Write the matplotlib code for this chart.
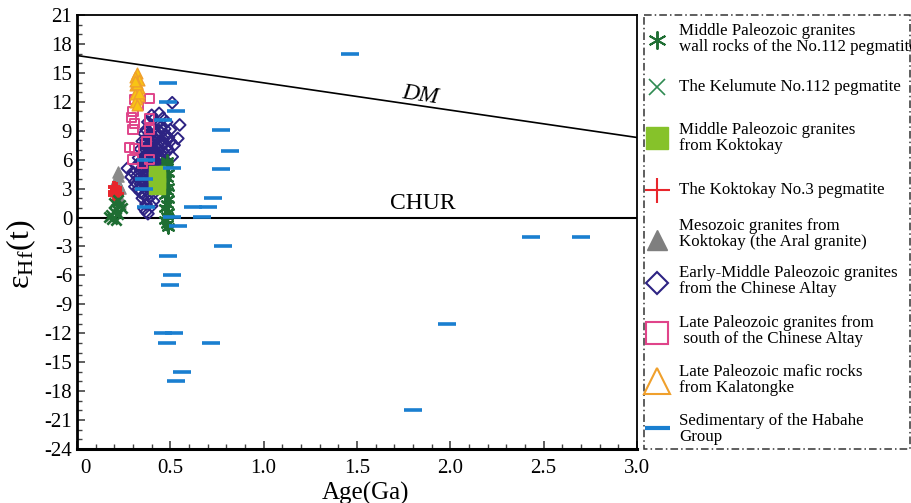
import matplotlib
matplotlib.use("Agg")
import matplotlib.pyplot as plt
from matplotlib.lines import Line2D
from matplotlib.patches import Rectangle
from matplotlib.ticker import MultipleLocator, FuncFormatter
import matplotlib.transforms as mtransforms

plt.rcParams['font.family'] = ['Liberation Serif', 'DejaVu Serif']
plt.rcParams['mathtext.fontset'] = 'stix'

# ---------------- data ----------------
diam_x = [0.51,0.44,0.40,0.41,0.46,0.38,0.43,0.48,0.55,0.40,0.45,
          0.37,0.41,0.44,0.47,0.50,0.36,0.39,0.42,0.45,0.48,
          0.38,0.40,0.43,0.46,0.49,0.54,0.35,0.37,0.39,0.41,0.44,0.47,0.50,
          0.36,0.38,0.40,0.42,0.45,0.48,0.52,0.34,0.37,0.39,0.41,0.43,0.46,0.49,
          0.35,0.37,0.39,0.41,0.44,0.47,0.51,0.33,0.36,0.38,0.40,0.42,0.45,0.48,
          0.34,0.36,0.38,0.40,0.43,0.46,0.32,0.35,0.37,0.39,0.41,0.44,0.27,
          0.30,0.34,0.36,0.38,0.40,0.42,0.29,0.32,0.35,0.37,0.39,0.41,
          0.31,0.34,0.36,0.38,0.40,0.31,0.33,0.35,0.37,0.39,0.34,0.36,0.38,0.41,
          0.35,0.38,0.41,0.37,0.40,0.36,0.38,0.37,
          0.39,0.42,0.37,0.40,0.43,0.38,0.41,0.36,0.39,0.42,0.40,0.38]
diam_y = [11.9,10.8,10.6,10.2,10.3,9.9,9.8,9.9,9.6,9.5,9.4,
          9.1,9.2,9.0,9.2,9.1,8.7,8.8,8.6,8.8,8.5,
          8.3,8.1,8.4,8.2,8.3,8.2,7.9,8.0,7.7,7.9,7.8,7.7,7.9,
          7.5,7.3,7.6,7.4,7.5,7.3,7.5,7.1,7.0,7.2,6.9,7.1,6.9,7.0,
          6.7,6.5,6.8,6.6,6.4,6.6,6.3,6.2,6.3,6.0,6.2,5.9,6.1,5.8,
          5.8,5.6,5.5,5.7,5.4,5.6,5.4,5.2,5.0,5.3,5.1,4.9,5.1,
          4.7,4.8,4.5,4.7,4.4,4.6,4.2,4.3,4.0,4.2,3.9,4.1,
          3.7,3.5,3.7,3.4,3.6,3.2,3.0,3.2,2.9,3.1,2.6,2.4,2.7,2.5,
          2.0,1.9,1.7,1.4,1.2,0.9,0.4,0.6,
          8.5,8.0,7.8,7.0,6.7,6.6,6.0,5.9,5.1,5.2,4.8,3.8]

pink_x = [0.31,0.39,0.30,0.31,0.30,0.39,0.39,0.28,0.31,0.30,0.39,0.33,0.29,0.37,0.35]
pink_y = [12.2,12.3,11.0,9.8,9.1,10.3,9.1,7.3,7.2,6.0,6.0,11.6,10.4,7.9,5.6]

yel_x = [0.32,0.31,0.33,0.32,0.31,0.33,0.32,0.31,0.33,0.32,0.31,0.32,0.33,0.32,0.31]
yel_y = [15.0,14.6,14.3,14.0,13.7,13.4,13.1,12.8,12.6,12.3,12.0,11.7,12.9,13.8,14.2]

gray_x = [0.22,0.22,0.21,0.22,0.23,0.21,0.22,0.22,0.23]
gray_y = [4.7,4.3,3.9,3.5,3.1,2.7,2.3,1.9,1.6]

red_x = [0.20,0.21,0.20,0.22,0.21,0.20,0.21]
red_y = [3.2,2.9,2.6,2.4,3.1,2.3,2.7]

gx_x = [0.22,0.23,0.21,0.20,0.18,0.17,0.22,0.19,0.21,0.24,0.20]
gx_y = [1.8,1.3,0.9,0.6,0.3,0.1,0.4,-0.2,-0.3,1.0,1.5]

ast_x = [0.48,0.47,0.49,0.48,0.47,0.49,0.48,0.47,0.49,0.48,0.47,0.49,0.48,0.47,0.48,0.49,0.48]
ast_y = [5.5,5.0,4.6,4.1,3.7,3.2,2.8,2.3,1.9,1.4,1.0,0.6,0.2,-0.3,-0.7,-1.0,5.9]

lg_x = [0.43,0.43,0.43]
lg_y = [4.5,3.9,3.3]

sed_x = [1.46,0.49,0.49,0.53,0.77,0.82,0.77,0.73,0.62,0.70,0.67,0.54,0.51,0.46,0.37,0.36,
         0.37,0.51,0.78,0.49,0.51,0.50,0.46,0.52,0.48,0.72,0.56,0.53,1.80,1.98,2.43,2.70,0.36]
sed_y = [17.0,14.0,12.0,11.0,9.1,6.9,5.0,2.0,1.1,1.1,0.1,-0.9,5.1,10.1,6.0,4.0,
         1.1,0.1,-3.0,-4.0,-6.0,-7.0,-12.0,-12.0,-13.0,-13.0,-16.0,-17.0,-20.0,-11.0,-2.0,-2.0,3.0]

dm_x = [0.0, 3.0]
dm_y = [16.8, 8.3]

legend_labels = [
    "Middle Paleozoic granites\nwall rocks of the No.112 pegmatite",
    "The Kelumute No.112 pegmatite",
    "Middle Paleozoic granites\nfrom Koktokay",
    "The Koktokay No.3 pegmatite",
    "Mesozoic granites from\nKoktokay (the Aral granite)",
    "Early-Middle Paleozoic granites\nfrom the Chinese Altay",
    "Late Paleozoic granites from\n south of the Chinese Altay",
    "Late Paleozoic mafic rocks\nfrom Kalatongke",
    "Sedimentary of the Habahe\nGroup",
]

# ---------------- colours ----------------
C_DIAM = '#2d2383'
C_PINK = '#e0448a'
C_YEL = '#f8c414'
C_ORG = '#f0a02c'
C_GRAY = '#8a8a8a'
C_RED = '#e8262c'
C_AST = '#1f6e33'
C_GX = '#2f8a52'
C_LG = '#86c22a'
C_BLUE = '#1a7fd0'

W, H = 912, 503
fig = plt.figure(figsize=(W/100, H/100), dpi=100)
ax = fig.add_axes([77/W, 1-449/H, (637-77)/W, (449-15)/H])

ax.plot(dm_x, dm_y, color='black', lw=1.2, zorder=2)
ax.axhline(0, color='black', lw=1.5, zorder=2)

ax.scatter(diam_x, diam_y, marker='D', s=36, facecolors='none', edgecolors=C_DIAM, linewidths=1.4, zorder=3)
ax.scatter(pink_x, pink_y, marker='s', s=42, facecolors='none', edgecolors=C_PINK, linewidths=1.4, zorder=4)
ax.scatter(yel_x, yel_y, marker='^', s=60, facecolors=C_YEL, edgecolors=C_ORG, linewidths=1.0, zorder=5)
ax.scatter(gray_x, gray_y, marker='^', s=65, color=C_GRAY, zorder=5)
ax.scatter(red_x, red_y, marker='+', s=75, color=C_RED, linewidths=2.8, zorder=6)
ax.scatter(gx_x, gx_y, marker='x', s=55, color=C_AST, linewidths=1.9, zorder=6)
ax.scatter(ast_x, ast_y, marker=(6, 2, 0), s=75, color=C_AST, linewidths=1.7, zorder=6)
ax.scatter(lg_x, lg_y, marker='s', s=140, color=C_LG, zorder=7)
ax.scatter(sed_x, sed_y, marker='_', s=160, color=C_BLUE, linewidths=2.6, zorder=8)

ax.set_xlim(0, 3.0)
ax.set_ylim(-24, 21)
ax.xaxis.set_major_locator(MultipleLocator(0.5))
ax.xaxis.set_minor_locator(MultipleLocator(0.1))
ax.yaxis.set_major_locator(MultipleLocator(3))
ax.yaxis.set_minor_locator(MultipleLocator(1))
ax.xaxis.set_major_formatter(FuncFormatter(lambda v, p: '0' if abs(v) < 1e-9 else f'{v:.1f}'))
ax.yaxis.set_major_formatter(FuncFormatter(lambda v, p: f'{int(round(v))}'))
ax.tick_params(which='both', direction='in', labelsize=15, color='#444444')
ax.tick_params(which='major', length=6, width=1.2)
ax.tick_params(which='minor', length=3.5, width=1.0)
ax.tick_params(axis='x', pad=7)
for sp in ax.spines.values():
    sp.set_linewidth(1.3)
ax.spines['bottom'].set_linewidth(2.2)
ax.spines['left'].set_linewidth(2.0)

ax.set_xlabel('Age(Ga)', fontsize=18, labelpad=3)
ax.xaxis.set_label_coords(0.515, -0.075)
ax.set_ylabel(r'$\mathregular{\varepsilon}_{\mathregular{Hf}}\mathregular{(t)}$', fontsize=23, labelpad=6)
ax.yaxis.set_label_coords(-0.07, 0.45)

ax.text(1.84, 12.7, 'DM', fontsize=17, style='italic', rotation=-8.3, ha='center', va='center')
ax.text(1.85, 1.5, 'CHUR', fontsize=17, ha='center', va='center')

# shift the "0" tick label slightly to the right as in the reference
fig.canvas.draw()
for tk in ax.xaxis.get_major_ticks():
    if tk.label1.get_text() == '0':
        tk.label1.set_transform(tk.label1.get_transform() +
                                mtransforms.ScaledTranslation(8/100, 0, fig.dpi_scale_trans))

# ---------------- legend ----------------
lax = fig.add_axes([0, 0, 1, 1])
lax.set_xlim(0, W)
lax.set_ylim(H, 0)
lax.axis('off')
lax.add_patch(Rectangle((644, 15), 266, 434, fill=False, ls=(0, (5, 2, 1, 2)), lw=1.1, ec='#333333'))

handles = [
    dict(marker=(6, 2, 0), ms=13, color=C_AST, mew=1.4, mfc='none'),
    dict(marker='x', ms=12, color=C_GX, mew=1.2),
    dict(marker='s', ms=16, color=C_LG),
    dict(marker='+', ms=18, color=C_RED, mew=1.5),
    dict(marker='^', ms=15, color='#7f7f7f'),
    dict(marker='D', ms=11, mfc='none', mec=C_DIAM, mew=1.5),
    dict(marker='s', ms=16, mfc='none', mec=C_PINK, mew=1.5),
    dict(marker='^', ms=19, mfc='none', mec=C_ORG, mew=1.5),
    dict(marker='_', ms=18, color=C_BLUE, mew=3.0),
]
marker_y = [40, 87, 138, 190, 240, 283, 333, 381, 428]
text_y = [39, 87, 138, 190, 234, 281, 331, 380, 429]
for h, my, ty, lab in zip(handles, marker_y, text_y, legend_labels):
    lax.add_line(Line2D([657], [my], ls='none', **h))
    lax.text(679, ty, lab, fontsize=12.2, ha='left', va='center', linespacing=1.0)

fig.savefig('out.png', dpi=100)
